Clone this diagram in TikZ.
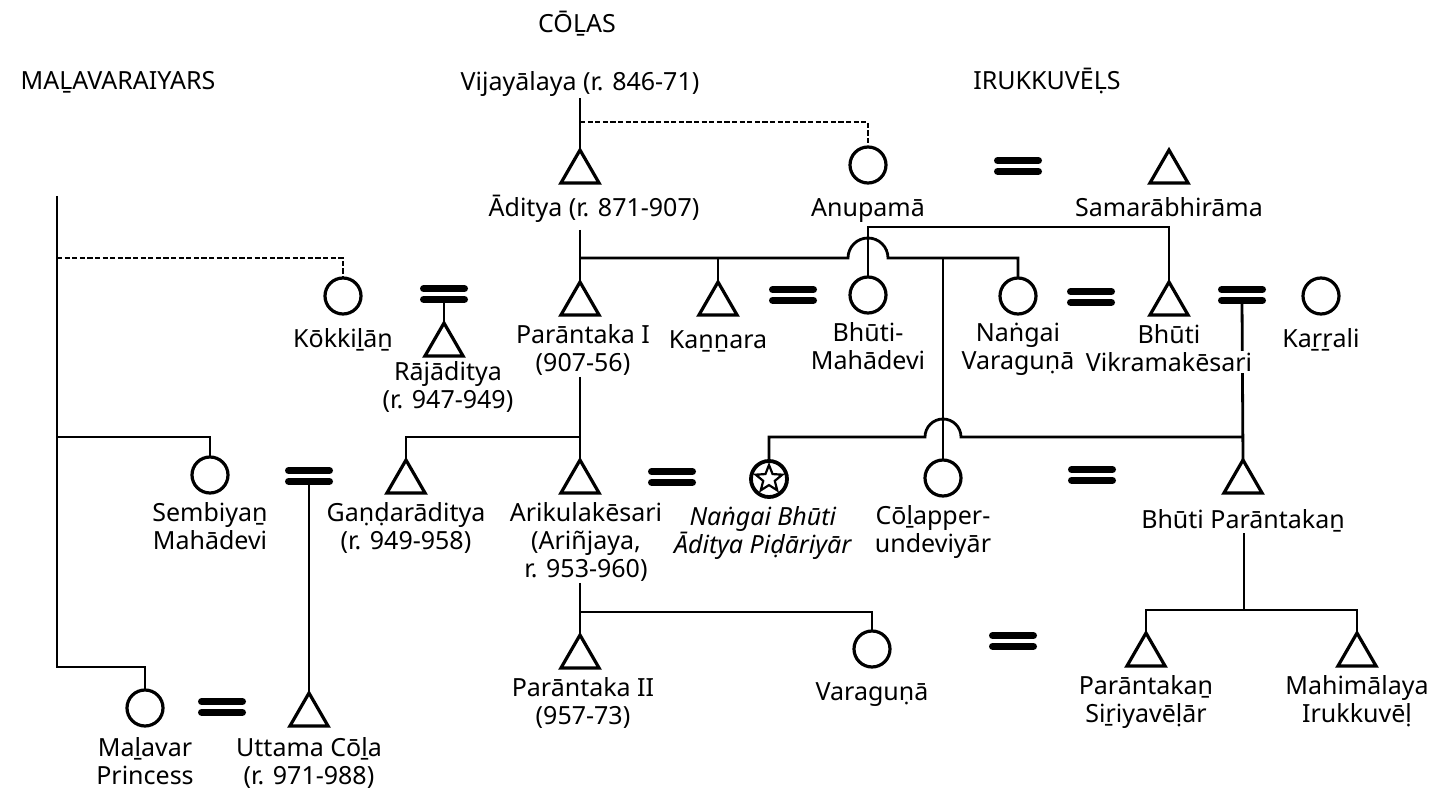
\documentclass[tikz,border=0pt]{standalone}
\usepackage{fontspec}
\setmainfont{Noto Sans}
\usetikzlibrary{positioning, shapes.geometric}

\begin{document}
\begin{tikzpicture}[x=0.5pt, y=-0.5pt, line width=1.4pt,
        font=\fontsize{12.5}{14}\selectfont,
        lbl/.style={align=center, inner sep=0pt, execute at begin node={\rule{0pt}{12pt}}},
        male/.style={regular polygon, regular polygon sides=3, draw, line width=1.6pt,
            minimum size=22pt, inner sep=0pt, outer sep=0pt, anchor=north},
        fem/.style={circle, draw, line width=1.6pt, minimum size=18pt, inner sep=0pt, outer sep=0pt},
        starfem/.style={fem, line width=1.9pt, path picture={
            \node[star, star points=5, star point ratio=2.3, draw, line width=1.1pt,
                minimum size=14pt, inner sep=0pt] at (path picture bounding box.center) {};}},
        dashline/.style={line width=1pt, dash pattern=on 2.6pt off 1.2pt},
        wed/.pic={\draw[line width=3.6pt, line cap=round]
                (-10.2pt,2.7pt) -- (10.2pt,2.7pt) (-10.2pt,-2.7pt) -- (10.2pt,-2.7pt);
            \coordinate (-stem) at (0pt,-2.7pt);}]
    \useasboundingbox (0,0) rectangle (1441,796);

    % dynasties
    \node[lbl, anchor=base] (colas) at (577,33) {CŌḺAS};
    \node[lbl, anchor=base] (malt) at (118,90) {MAḺAVARAIYARS};
    \node[lbl, anchor=base] (irut) at (1047,90) {IRUKKUVĒḶS};
    \node[lbl, anchor=base] (vij) at (580,91) {Vijayālaya (r. 846-71)};

    % people
    \node[male] (adi) at (580,150) {};
    \node[fem] (anu) at (868,165) {};
    \node[male] (sam) at (1169,150) {};
    \node[fem] (kok) at (343,296) {};
    \node[male] (raj) at (444,323) {};
    \node[male] (pI) at (580,282) {};
    \node[male] (kan) at (718,282) {};
    \node[fem] (bmd) at (868,295) {};
    \node[fem] (nvg) at (1018,296) {};
    \node[male] (bvk) at (1169,282) {};
    \node[fem] (kar) at (1321,296) {};
    \node[fem] (sem) at (210,475) {};
    \node[male] (gan) at (406,460) {};
    \node[male] (ari) at (580,460) {};
    \node[starfem] (nbh) at (769,479) {};
    \node[fem] (cpu) at (943,478) {};
    \node[male] (bpt) at (1243,460) {};
    \node[male] (p2) at (580,635) {};
    \node[fem] (var) at (872,649) {};
    \node[male] (ps) at (1146,633) {};
    \node[male] (mi) at (1357,633) {};
    \node[fem] (mp) at (145,708) {};
    \node[male] (utt) at (309,693) {};

    % marriages
    \pic (wAS) at (1018,166) {wed};
    \pic (wKP) at (444,294) {wed};
    \pic (wKB) at (793,295) {wed};
    \pic (wNV) at (1091,297) {wed};
    \pic (wVK) at (1242,295) {wed};
    \pic (wSG) at (309,476) {wed};
    \pic (wAN) at (672,477) {wed};
    \pic (wCB) at (1092,475) {wed};
    \pic (wVP) at (1013,641) {wed};
    \pic (wMU) at (222,707) {wed};

    % names
    \node[lbl, below=4pt of adi, xshift=7pt] (adi-l) {Āditya (r. 871-907)};
    \node[lbl, below=4pt of anu] (anu-l) {Anupamā};
    \node[lbl, below=4pt of sam] (sam-l) {Samarābhirāma};
    \node[lbl, below=4pt of kok] (kok-l) {Kōkkiḻāṉ};
    \node[lbl, below=2pt of raj, xshift=2pt] (raj-l) {Rājāditya\\(r. 947-949)};
    \node[lbl, below=4pt of pI, xshift=1.5pt] (pI-l) {Parāntaka I\\(907-56)};
    \node[lbl, below=4pt of kan] (kan-l) {Kaṉṉara};
    \node[lbl, below=4pt of bmd] (bmd-l) {Bhūti-\\Mahādevi};
    \node[lbl, below=4pt of nvg] (nvg-l) {Naṅgai\\Varaguṇā};
    \node[lbl, below=4pt of kar] (kar-l) {Kaṟṟali};
    \node[lbl, below=4pt of sem] (sem-l) {Sembiyaṉ\\Mahādevi};
    \node[lbl, below=4pt of gan] (gan-l) {Gaṇḍarāditya\\(r. 949-958)};
    \node[lbl, below=4pt of ari, xshift=3pt] (ari-l) {Arikulakēsari\\(Ariñjaya,\\r. 953-960)};
    \node[lbl, below=4pt of nbh, xshift=-3pt] (nbh-l) {\textit{Naṅgai Bhūti}\\\textit{Āditya Piḍāriyār}};
    \node[lbl, below=4pt of cpu, xshift=-5pt] (cpu-l) {Cōḻapper-\\undeviyār};
    \node[lbl, below=5pt of bpt] (bpt-l) {Bhūti Parāntakaṉ};
    \node[lbl, below=4pt of p2, xshift=1.5pt] (p2-l) {Parāntaka II\\(957-73)};
    \node[lbl, below=4pt of var] (var-l) {Varaguṇā};
    \node[lbl, below=4pt of ps] (ps-l) {Parāntakaṉ\\Siṟiyavēḷār};
    \node[lbl, below=4pt of mi] (mi-l) {Mahimālaya\\Irukkuvēḷ};
    \node[lbl, below=5pt of mp] (mp-l) {Maḻavar\\Princess};
    \node[lbl, below=5pt of utt] (utt-l) {Uttama Cōḻa\\(r. 971-988)};

    % branch points
    \coordinate (vijbr) at (580,122);
    \coordinate (anubr) at (868,227);
    \coordinate (adibr) at (580,258);
    \coordinate (mtop) at (57,196);
    \coordinate (mkok) at (57,258);
    \coordinate (msem) at (57,437);
    \coordinate (mbot) at (57,667);
    \coordinate (pIbr) at (580,437);
    \coordinate (bptbr) at (1243,437);
    \coordinate (aribr) at (580,612);
    \coordinate (bptbr2) at (1244,610);

    % descent
    \draw (vij.south -| adi.north) -- (adi.north);
    \draw[dashline] (vijbr) -| (anu.north);
    \draw (bmd.north) -- (anubr) -| (bvk.north);
    \draw ([yshift=-3pt]adi-l.south -| pI.north) -- (pI.north);
    \draw (adibr) -- ([xshift=-10pt]bmd.north |- adibr) arc[start angle=180, end angle=0, radius=10pt] -| (nvg.north);
    \draw (kan.north) -- (kan.north |- adibr);
    \draw (cpu.north) -- (cpu.north |- adibr);
    \draw (mtop) -- (mbot) -| (mp.north);
    \draw[dashline] (mkok) -| (kok.north);
    \draw (msem) -| (sem.north);
    \draw (wKP-stem) -- (raj.north);
    \draw (wSG-stem) -- (utt.north);
    \draw (wVK-stem) -- (bpt.north);
    \draw (pI-l.south -| ari.north) -- (ari.north);
    \draw (pIbr) -| (gan.north);
    \draw (nbh.north) |- ([xshift=-9pt]cpu.north |- bptbr) arc[start angle=180, end angle=0, radius=9pt] -- (bptbr);
    \draw (ari-l.south -| p2.north) -- (p2.north);
    \draw (aribr) -| (var.north);
    \draw (bpt-l.south -| bptbr2) -- (bptbr2);
    \draw (ps.north) |- (bptbr2) -| (mi.north);

    \node[lbl, below=4pt of bvk] (bvk-l) {Bhūti\\{\fboxsep=0.5pt\colorbox{white}{Vikramakēsari}}};
\end{tikzpicture}
\end{document}
